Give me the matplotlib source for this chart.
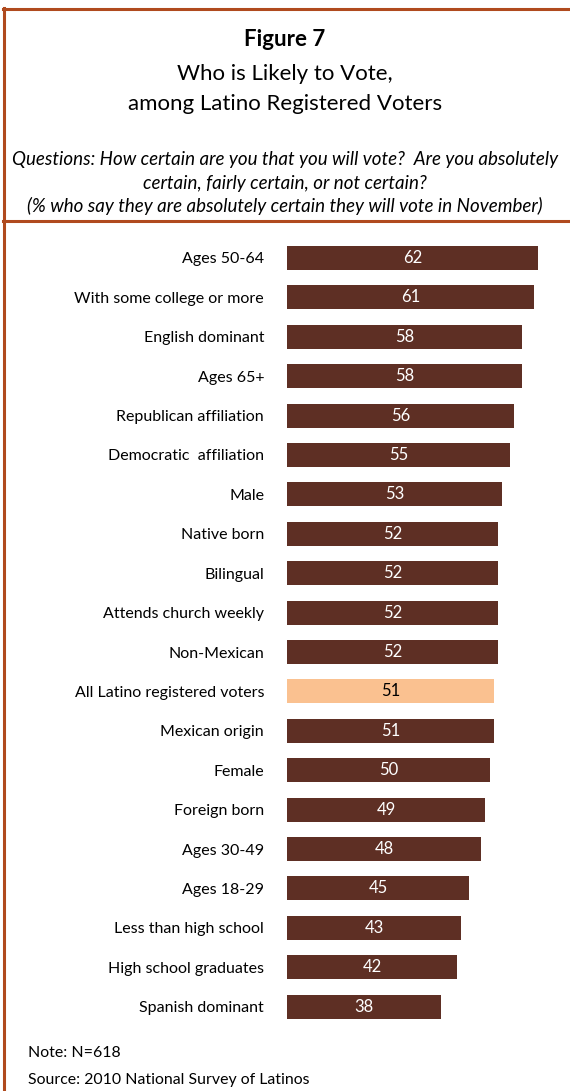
"""
Figure 7: Who is Likely to Vote, among Latino Registered Voters.
Horizontal bars, one highlighted (all registered voters).
"""
import matplotlib
matplotlib.use('Agg')
import matplotlib.pyplot as plt
from matplotlib.lines import Line2D

plt.rcParams["font.family"] = ["Lato", "DejaVu Sans"]

categories = [
    "Ages 50-64", "With some college or more", "English dominant", "Ages 65+",
    "Republican affiliation", "Democratic  affiliation", "Male", "Native born",
    "Bilingual", "Attends church weekly", "Non-Mexican",
    "All Latino registered voters", "Mexican origin", "Female", "Foreign born",
    "Ages 30-49", "Ages 18-29", "Less than high school",
    "High school graduates", "Spanish dominant",
]
values = [62, 61, 58, 58, 56, 55, 53, 52, 52, 52, 52, 51, 51, 50, 49, 48, 45, 43, 42, 38]
highlight = "All Latino registered voters"

BAR = "#5E2F24"
HIGHLIGHT = "#FAC190"
RULE = "#B04A1E"

W, H = 570, 1091
fig = plt.figure(figsize=(W / 100, H / 100), dpi=100)

# bar area in pixel terms: x0=287, ~4.05 px per point, rows every 39.4 px
px_per = 4.05
row = 39.4
top_c = 258
left = 287
ax_w = 70 * px_per
ax_h = len(categories) * row
ax_top = top_c - row / 2
ax = fig.add_axes([left / W, 1 - (ax_top + ax_h) / H, ax_w / W, ax_h / H])

ypos = list(range(len(categories)))
colors = [HIGHLIGHT if c == highlight else BAR for c in categories]
ax.barh(ypos, values, height=0.61, color=colors, edgecolor="none")
for y, v, c in zip(ypos, values, categories):
    ax.text(v / 2, y, str(v), ha="center", va="center", fontsize=12,
            color="black" if c == highlight else "white")

ax.set_xlim(0, 70)
ax.set_ylim(len(categories) - 0.5, -0.5)
ax.set_yticks(ypos)
ax.set_yticklabels(categories, fontsize=11.5)
ax.tick_params(axis="y", length=0, pad=16.5)
ax.set_xticks([])
for s in ax.spines.values():
    s.set_visible(False)

# titles
fig.text(0.5, 1 - 40 / H, "Figure 7", ha="center", va="center",
         fontsize=16, fontweight="bold")
fig.text(0.5, 1 - 74 / H, "Who is Likely to Vote,", ha="center", va="center", fontsize=16)
fig.text(0.5, 1 - 104 / H, "among Latino Registered Voters", ha="center", va="center", fontsize=16)
q_lines = [
    "Questions: How certain are you that you will vote?  Are you absolutely",
    "certain, fairly certain, or not certain?",
    "(% who say they are absolutely certain they will vote in November)",
]
for i, t in enumerate(q_lines):
    fig.text(0.5, 1 - (160 + 23 * i) / H, t, ha="center", va="center",
             fontsize=13.5, style="italic")

fig.text(28 / W, 1 - 1053 / H, "Note: N=618", ha="left", va="center", fontsize=11.4)
fig.text(28 / W, 1 - 1080 / H, "Source: 2010 National Survey of Latinos", ha="left",
         va="center", fontsize=11.4)

# rust frame lines
def hline(y):
    fig.add_artist(Line2D([3 / W, 1], [1 - y / H, 1 - y / H], color=RULE, lw=2.2,
                          transform=fig.transFigure))

hline(9)
hline(221)
fig.add_artist(Line2D([4 / W, 4 / W], [0, 1 - 8 / H], color=RULE, lw=2.2,
                      transform=fig.transFigure))

fig.savefig("out.png", dpi=100)
